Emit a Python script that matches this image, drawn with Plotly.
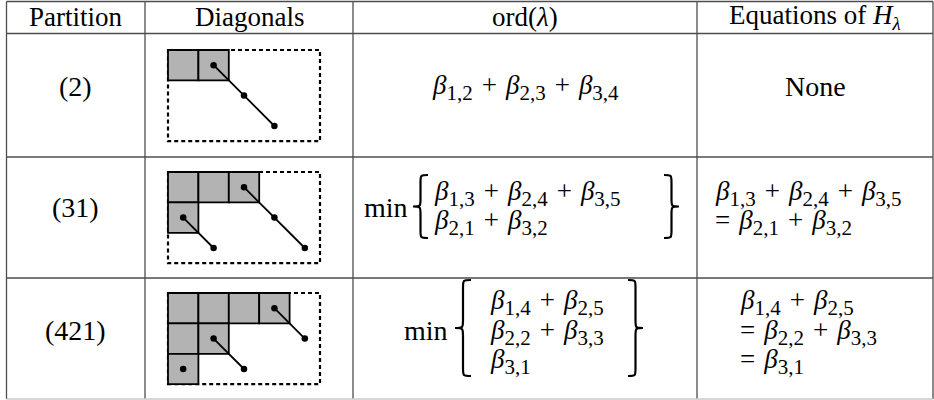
import plotly.graph_objects as go

W, H = 934, 400

headers = ["Partition", "Diagonals", "ord(<i>λ</i>)", "Equations of <i>H</i><sub><i>λ</i></sub>"]
partitions = ["(2)", "(31)", "(421)"]
row_lengths = [[2], [3, 1], [4, 2, 1]]
diagonals = [
    [[(1, 2), (2, 3), (3, 4)]],
    [[(1, 3), (2, 4), (3, 5)], [(2, 1), (3, 2)]],
    [[(1, 4), (2, 5)], [(2, 2), (3, 3)], [(3, 1)]],
]
box_cols, box_rows = 5, 3
no_equation = "None"

# table geometry in pixels
col_x = [6.5, 145, 353, 697, 933]
row_y = [1.5, 33.5, 157, 278, 399]
head_mid = 17
row_mid = [86, 207, 330]
diag_left = 168
diag_top = [50, 172, 293]
cell = 30.4

# placement of the ord / equation blocks
ord_lines_y = [[87], [193.5, 222.5], [302, 332, 361]]
ord_text_x = [None, 432, 488]
min_right = [None, 410, 450]
lbrace_x = [None, (413, 428), (455, 471)]
rbrace_x = [None, (679, 664), (643, 628)]
brace_y = [None, (175, 238), (280, 376)]
eq_text_x = [None, 713, 738]

FONT = "Liberation Serif, Times New Roman, Tinos, DejaVu Serif, serif"
FS_HEAD = 27
FS = 28
FS_MATH = 27
FS_SUB = 21
SP = "\u2004"


def beta(i, j):
    return f"<i>β</i><sub><span style='font-size:{FS_SUB}px'>{i},{j}</span></sub>"


def dsum(diag):
    return f"{SP}+{SP}".join(beta(i, j) for i, j in diag)


def brace(xt, xe, y0, y1):
    # xt: tip x, xe: end x
    xm = (xt + xe) / 2
    ym = (y0 + y1) / 2
    r = abs(xe - xt) / 2
    return (f"M {xe},{y0} C {xm},{y0} {xm},{y0} {xm},{y0 + r} "
            f"L {xm},{ym - r} C {xm},{ym} {xm},{ym} {xt},{ym} "
            f"C {xm},{ym} {xm},{ym} {xm},{ym + r} "
            f"L {xm},{y1 - r} C {xm},{y1} {xm},{y1} {xe},{y1}")


def label(x, y, text, anchor="center", size=FS):
    return dict(x=x, y=y, text=text, xanchor=anchor, yanchor="middle", showarrow=False,
                font=dict(family=FONT, size=size, color="black"))


fig = go.Figure()
shapes = []
annotations = []

# table rules
for x in col_x:
    shapes.append(dict(type="line", x0=x, x1=x, y0=row_y[0], y1=row_y[-1],
                       line=dict(color="#4d4d4d", width=1.3)))
for y in row_y[:-1]:
    shapes.append(dict(type="line", x0=col_x[0], x1=col_x[-1], y0=y, y1=y,
                       line=dict(color="#4d4d4d", width=1.3)))
shapes.append(dict(type="line", x0=col_x[0], x1=col_x[-1], y0=row_y[-1], y1=row_y[-1],
                   line=dict(color="#c8c8c8", width=1.3)))

# headers
for k, h in enumerate(headers):
    annotations.append(label((col_x[k] + col_x[k + 1]) / 2, head_mid, h, size=FS_HEAD))

for r, part in enumerate(partitions):
    annotations.append(label((col_x[0] + col_x[1]) / 2, row_mid[r], part))

    # dotted bounding box, then the Young diagram cells on top
    top = diag_top[r]
    shapes.append(dict(type="rect", layer="below", x0=diag_left, x1=diag_left + box_cols * cell,
                       y0=top, y1=top + box_rows * cell,
                       line=dict(color="black", width=2.2, dash="4px,3px")))
    for i, n in enumerate(row_lengths[r]):
        for j in range(n):
            shapes.append(dict(type="rect", layer="below",
                               x0=diag_left + j * cell, x1=diag_left + (j + 1) * cell,
                               y0=top + i * cell, y1=top + (i + 1) * cell,
                               fillcolor="#b3b3b3", line=dict(color="black", width=1.8)))

    # diagonals through cell centres
    for diag in diagonals[r]:
        xs = [diag_left + (j - 0.5) * cell for i, j in diag]
        ys = [top + (i - 0.5) * cell for i, j in diag]
        fig.add_trace(go.Scatter(x=xs, y=ys, mode="lines+markers", showlegend=False,
                                 hoverinfo="skip",
                                 line=dict(color="black", width=1.8),
                                 marker=dict(color="black", size=6.5)))

    # ord(lambda) and equations of H_lambda
    sums = [dsum(d) for d in diagonals[r]]
    if len(sums) == 1:
        annotations.append(label((col_x[2] + col_x[3]) / 2, ord_lines_y[r][0], sums[0], size=FS_MATH))
        annotations.append(label((col_x[3] + col_x[4]) / 2, row_mid[r], no_equation))
    else:
        y0, y1 = brace_y[r]
        annotations.append(label(min_right[r], row_mid[r], "min", anchor="right"))
        shapes.append(dict(type="path", path=brace(lbrace_x[r][0], lbrace_x[r][1], y0, y1),
                           line=dict(color="black", width=2.2)))
        shapes.append(dict(type="path", path=brace(rbrace_x[r][0], rbrace_x[r][1], y0, y1),
                           line=dict(color="black", width=2.2)))
        for k, s in enumerate(sums):
            annotations.append(label(ord_text_x[r], ord_lines_y[r][k], s, anchor="left", size=FS_MATH))
            eq = s if k == 0 else f"={SP}" + s
            annotations.append(label(eq_text_x[r], ord_lines_y[r][k], eq, anchor="left", size=FS_MATH))

fig.update_layout(
    width=W, height=H,
    margin=dict(l=0, r=0, t=0, b=0),
    paper_bgcolor="white", plot_bgcolor="white",
    xaxis=dict(range=[0, W], visible=False, fixedrange=True),
    yaxis=dict(range=[H, 0], visible=False, fixedrange=True),
    shapes=shapes, annotations=annotations,
    showlegend=False,
)
fig.write_html("out.html", config={"displayModeBar": False},
               post_script="document.body.style.margin='0px';")
